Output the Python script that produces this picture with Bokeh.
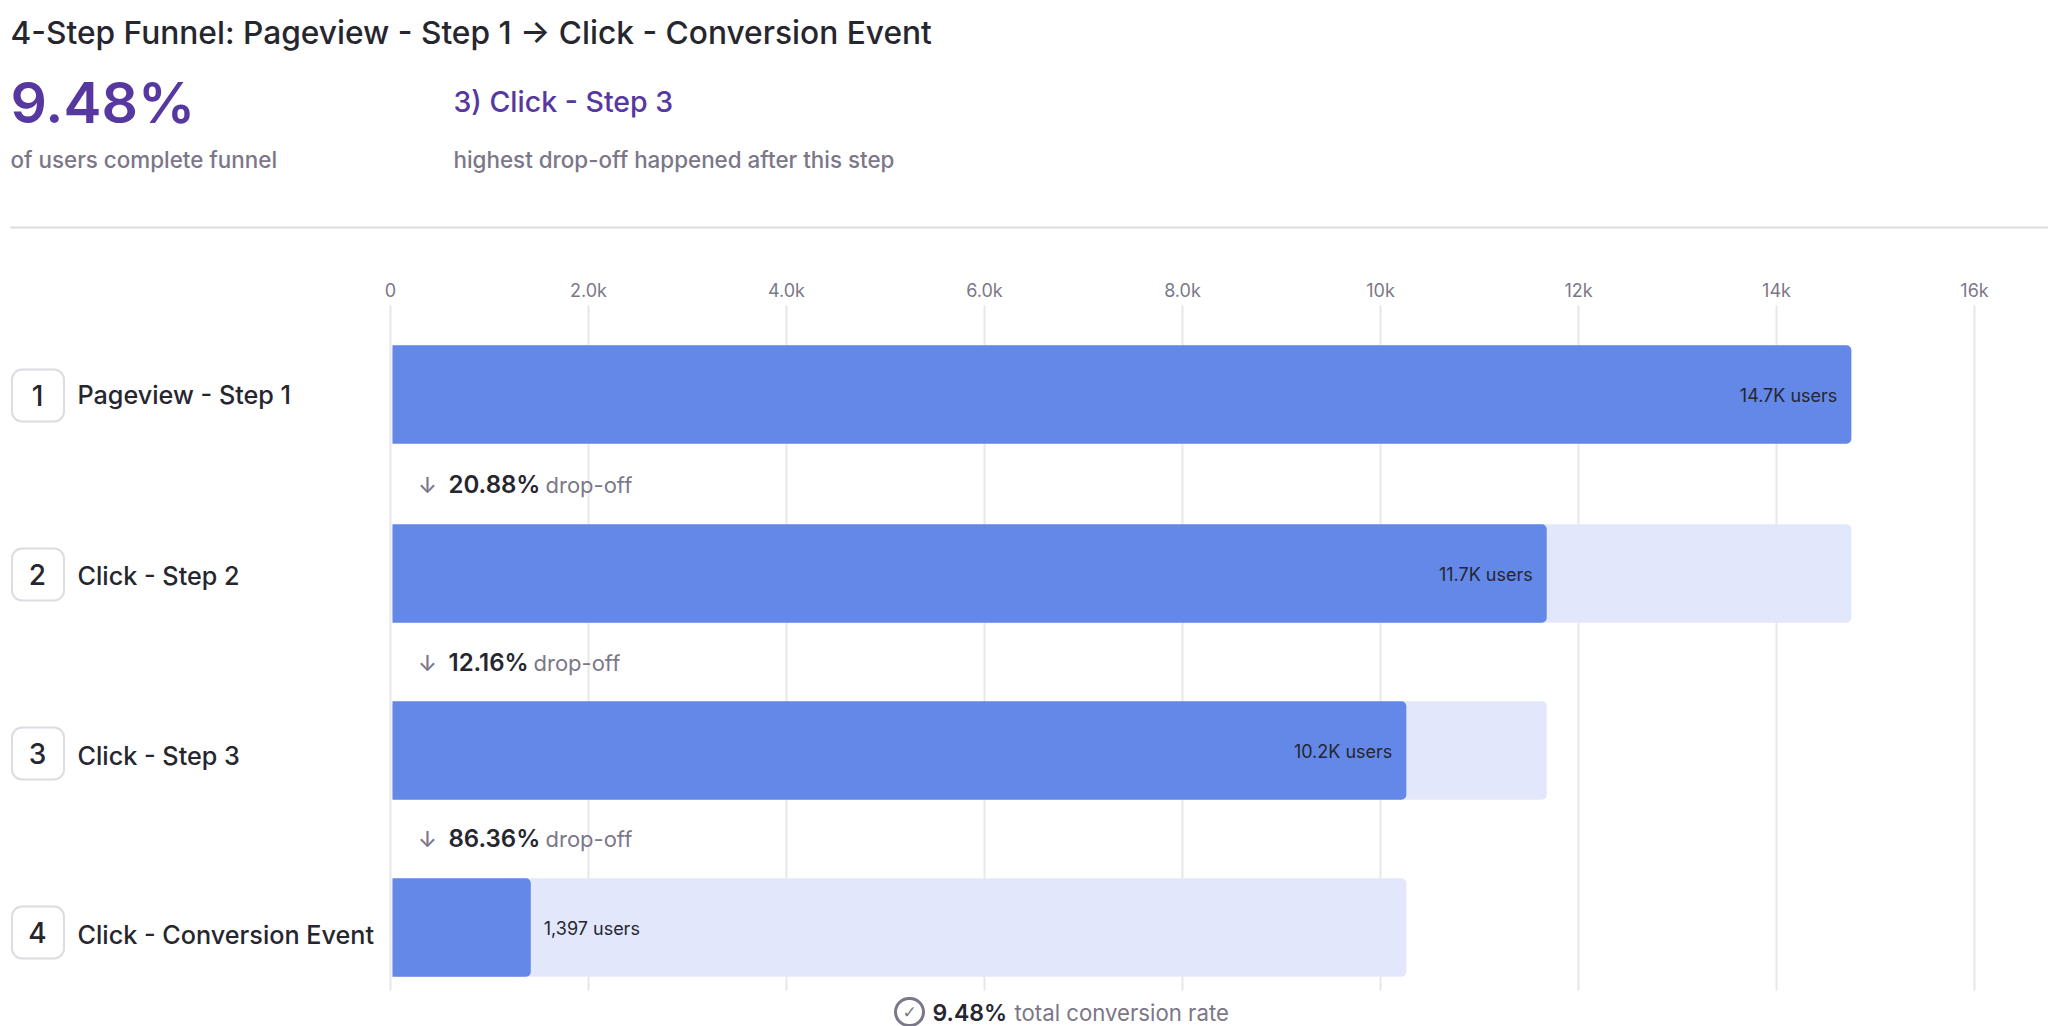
from bokeh.plotting import figure
from bokeh.models import ColumnDataSource, Range1d, LinearAxis, FixedTicker
from bokeh.core.properties import value
from bokeh.embed import file_html
from bokeh.resources import INLINE

# ---- data -------------------------------------------------------------
steps = ["Pageview - Step 1", "Click - Step 2", "Click - Step 3", "Click - Conversion Event"]
step_numbers = ["1", "2", "3", "4"]
users = [14736, 11659, 10241, 1397]
previous_users = [14736, 14736, 11659, 10241]
user_labels = ["14.7K users", "11.7K users", "10.2K users", "1,397 users"]
drop_offs = ["20.88%", "12.16%", "86.36%"]
tick_values = [0, 2000, 4000, 6000, 8000, 10000, 12000, 14000, 16000]
tick_labels = ["0", "2.0k", "4.0k", "6.0k", "8.0k", "10k", "12k", "14k", "16k"]
title_text = "4-Step Funnel: Pageview - Step 1 \u2192 Click - Conversion Event"
conversion = "9.48%"
worst_step = "3) Click - Step 3"

# ---- layout (page pixels) ---------------------------------------------
W, H = 2048, 1026
ZERO_PX = 390.0
PX_PER_UNIT = 0.099
GRID_TOP, GRID_BOTTOM = 305, 990
BAR_OFFSET = 20
bar_y = [394, 573, 750, 927]
BAR_H = 49.3
badge_y = [395, 574, 753, 932]
name_y = [394, 575, 755, 934]
drop_y = [484, 662, 838]
drop_word_x = [545, 533, 545]

def X(px):
    return (px - ZERO_PX) / PX_PER_UNIT

MED = "Inter Medium"
REG = "Inter"
SEMI = "Inter SemiBold"
INK = "#26262f"
GRAY = "#7b7789"
PURPLE = "#5638a0"
BLUE = "#6388e8"
PALE = "#e3e7fb"
GRID = "#e8e8ec"
LINE = "#dcdce2"

p = figure(width=W, height=H, output_backend="svg", toolbar_location=None,
           x_range=Range1d(X(0), X(W)), y_range=Range1d(H, 0),
           x_axis_location=None, y_axis_location=None,
           min_border_left=0, min_border_right=0, min_border_top=0, min_border_bottom=0)
p.outline_line_color = None
p.background_fill_color = "white"
p.grid.visible = False

axis = LinearAxis(ticker=FixedTicker(ticks=tick_values),
                  major_label_overrides=dict(zip(tick_values, tick_labels)),
                  fixed_location=306)
axis.axis_line_color = None
axis.major_tick_line_color = None
axis.minor_tick_line_color = None
axis.major_label_text_font = REG
axis.major_label_text_font_size = "18px"
axis.major_label_text_color = GRAY
axis.major_label_standoff = 0
p.add_layout(axis, "above")

p.segment(x0=tick_values, x1=tick_values, y0=[GRID_TOP] * 9, y1=[GRID_BOTTOM] * 9,
          line_color=GRID, line_width=2)

src = ColumnDataSource(dict(
    left=[BAR_OFFSET] * 4,
    right=[u + BAR_OFFSET for u in users],
    prev=[u + BAR_OFFSET for u in previous_users],
    top=[y - BAR_H for y in bar_y],
    bottom=[y + BAR_H for y in bar_y],
))
p.quad(left="left", right="prev", top="top", bottom="bottom", source=src,
       fill_color=PALE, line_color=None, border_radius=5)
p.quad(left="left", right="right", top="top", bottom="bottom", source=src,
       fill_color=BLUE, line_color=None, border_radius=(0, 5, 5, 0))

def T(text, px, y, size, color=INK, font=REG, align="left", style="normal"):
    p.text(x=[X(px)], y=[y], text=[text], text_font=value(font), text_font_size=f"{size}px",
           text_font_style=style, text_color=color, text_align=align, text_baseline="middle")

# header
T(title_text, 10, 32, 31.7, INK, MED)
T(conversion, 10, 102, 57, PURPLE, SEMI)
T("of users complete funnel", 10, 159, 22.4, GRAY, MED)
T(worst_step, 453, 101, 28.5, PURPLE, MED)
T("highest drop-off happened after this step", 453, 159, 22.4, GRAY, MED)
p.quad(left=[X(10)], right=[X(W)], top=[226], bottom=[228], fill_color=LINE, line_color=None)

# rows
for num, name, by, ny in zip(step_numbers, steps, badge_y, name_y):
    p.quad(left=[X(11.5)], right=[X(63.5)], top=[by - 26], bottom=[by + 26],
           fill_color="white", line_color=LINE, line_width=2, border_radius=10)
    T(num, 37, by, 28, INK, MED, "center")
    T(name, 77, ny, 25.2, INK, MED)

for pct, y, wx in zip(drop_offs, drop_y, drop_word_x):
    T("\u2193", 427, y, 22, GRAY, MED, "center")
    T(pct, 448, y, 24, INK, SEMI)
    T("drop-off", wx, y, 22, GRAY, REG)

# bar labels
for i, (lab, u, y) in enumerate(zip(user_labels, users, bar_y)):
    inside = i < 3
    px = ZERO_PX + (u + BAR_OFFSET) * PX_PER_UNIT + (-14 if inside else 13)
    T(lab, px, y + 1, 18, INK, REG, "right" if inside else "left")

# footer
p.quad(left=[X(895)], right=[X(923)], top=[998], bottom=[1025],
       fill_color="white", line_color=GRAY, line_width=3, border_radius=14)
T("\u2713", 909, 1011, 17, GRAY, "DejaVu Sans", "center", "bold")
T(conversion, 932, 1012, 23, INK, SEMI)
T("total conversion rate", 1014, 1012, 22.2, GRAY, REG)

open("out.html", "w").write(file_html(p, INLINE))
